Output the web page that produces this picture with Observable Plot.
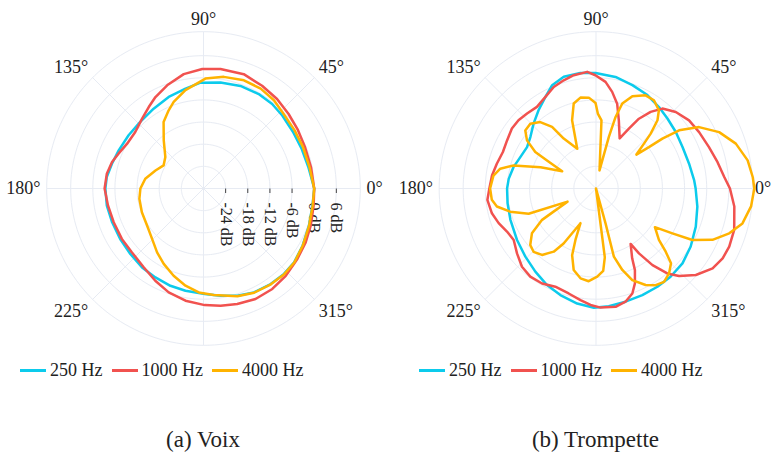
<!DOCTYPE html>
<html><head><meta charset="utf-8">
<script src="https://cdn.jsdelivr.net/npm/d3@7"></script>
<script src="https://cdn.jsdelivr.net/npm/@observablehq/plot@0.6"></script>
<style>
body{margin:0;background:#fff;font-family:"Liberation Serif",serif;color:#222}
#root{position:relative;width:772px;height:466px;overflow:hidden;background:#fff}
.panel{position:absolute;top:0;width:386px;height:466px}
.panel svg{position:absolute;left:0;top:0;overflow:visible}
.legend{position:absolute;top:359px;display:flex;align-items:center;font-size:18px;line-height:22px;white-space:nowrap}
.item{display:flex;align-items:center;margin-right:9px}
.sw{display:inline-block;width:26px;height:3px;margin-right:4px}
.caption{position:absolute;top:427px;font-size:23px;line-height:26px;white-space:nowrap;transform:translateX(-50%)}
</style></head><body><div id="root"></div><script>
// ---- data ----
const seriesNames = ["250 Hz", "1000 Hz", "4000 Hz"];
const seriesColors = ["#0ccbec", "#f1524f", "#ffb300"];
const captions = ["(a) Voix", "(b) Trompette"];
const angleTicks = [0, 45, 90, 135, 180, 225, 315];
const angleTickLabels = ["0°", "45°", "90°", "135°", "180°", "225°", "315°"];
const ringDb = [-24, -18, -12, -6, 0, 6];
const radialTickLabels = ["-24 dB", "-18 dB", "-12 dB", "-6 dB", "0 dB", "6 dB"];
const DB_MIN = -30, DB_MAX = 12.5;

// (a) Voix
const voix250Angles = [0, 11.6, 22.3, 32.4, 42.8, 50.9, 59.7, 70.2, 80.9, 91.6, 100.2, 110.8, 122, 133.5, 144.6, 155.8, 164.9, 173.3, 180, 190, 200.3, 211.2, 221.8, 232.1, 241.6, 251.2, 260, 270.7, 279, 287.5, 295.9, 305.1, 313.3, 320.8, 330, 340.6, 351.1];
const voix250Db = [0, -1.0, -1.3, -1.3, -0.9, -0.5, -0.35, -0.45, -0.9, -1.3, -2.5, -3.45, -4.5, -5.1, -5.1, -4.8, -4.3, -3.6, -3.4, -3.4, -3.6, -3.6, -3.4, -2.9, -2.6, -2.15, -1.85, -1.4, -0.6, 0.5, 1.3, 1.65, 1.8, 1.7, 1.0, 0.3, -0.1];
const voix1000Angles = [0, 11.3, 22.4, 31.8, 41.2, 50.6, 60.3, 70.6, 81.9, 90.6, 99.8, 109.4, 117.7, 123.9, 131.3, 140.4, 149.6, 157.7, 163.9, 171.3, 180, 190.1, 200.6, 211.7, 221.8, 232.8, 242.4, 251.5, 260.9, 270.6, 278.3, 286.3, 295.2, 304.4, 313.3, 323.1, 332.2, 340.9, 351.2];
const voix1000Db = [0, -0.3, -0.3, 0.1, 0.65, 1.4, 2.05, 2.85, 2.7, 2.4, 1.45, -0.35, -2.0, -3.4, -4.8, -6.0, -6.0, -5.1, -4.2, -3.5, -3.2, -3.7, -4.0, -4.0, -4.0, -3.2, -1.8, -0.3, 0.8, 1.6, 2.1, 2.6, 3.1, 3.0, 2.5, 1.8, 1.3, 0.75, 0.2];
const voix4000Angles = [0, 11.4, 22.7, 32.7, 42.9, 51.4, 60.2, 69.5, 79.7, 89, 100.4, 109, 114, 121, 129.6, 140.5, 149.9, 159.4, 170.5, 180, 189.1, 201.1, 213.3, 224.4, 234, 242.2, 251.1, 259.5, 267.4, 275.5, 287.5, 295.9, 305.1, 313.3, 320.8, 330, 340.6, 351.1];
const voix4000Db = [0, -0.7, -0.8, -0.7, -0.35, 0.6, 1.2, 1.3, 0.75, -0.2, -2.9, -5.2, -6.8, -9.0, -13.1, -16.6, -17.5, -16.1, -14.0, -12.9, -12.4, -12.1, -11.7, -10.5, -8.6, -6.9, -5.0, -3.2, -1.8, -1.0, 0.6, 1.4, 1.75, 1.9, 1.75, 1.05, 0.35, -0.05];

// (b) Trompette
const trp250Angles = [0, 4.7, 14.9, 25.6, 35.3, 44.4, 52.3, 61.2, 70.6, 80.1, 90.2, 97.7, 106.1, 113, 118.9, 126.3, 133.9, 141.9, 149, 157.5, 165.5, 173.7, 180, 189.5, 200.1, 213.1, 224, 233.9, 243.1, 251.5, 260.7, 269, 276.2, 284.6, 293.5, 302, 310.2, 319.1, 328.5, 339.1, 349.9];
const trp250Db = [-3.0, -3.3, -3.9, -4.0, -3.5, -2.9, -2.1, -1.1, -0.3, 0.7, 1.3, 1.6, 1.5, 0.4, -1.65, -3.7, -5.6, -7.4, -8.2, -7.8, -6.9, -6.2, -5.9, -5.7, -5.3, -4.45, -3.4, -2.1, -0.65, 0.45, 1.6, 2.3, 2.1, 1.7, 1.5, 1.4, 1.3, 1.0, 0.1, -1.05, -2.1];
const trp1000Angles = [0, 5.1, 12.2, 20.1, 28.7, 36.2, 43.8, 50.3, 54.5, 58.4, 61.2, 64.7, 71.5, 76, 80.5, 84.9, 90.3, 94.3, 101.1, 106.6, 112.6, 118.9, 125.9, 132.6, 138.6, 144.5, 151.6, 158.6, 166, 172.9, 180, 186, 193.4, 199.6, 205.8, 212, 219.4, 226.6, 233.3, 240.4, 247.5, 255.4, 262.1, 267.3, 272.2, 279.4, 284.6, 289.1, 292.3, 295.5, 297.4, 302, 303.5, 306.4, 310, 313.5, 319.1, 325.6, 331.1, 336.4, 343.3, 352.6];
const trp1000Db = [6.3, 4.9, 3.7, 2.6, 1.85, 1.25, -0.05, -1.85, -4.5, -7.8, -11.5, -15.0, -10.5, -6.3, -3.45, -1.0, 0.7, 1.7, 1.3, 0.6, -0.2, -1.65, -2.7, -2.4, -2.0, -2.0, -2.6, -2.9, -2.3, -1.6, -1.1, -0.4, -1.0, -2.0, -3.2, -3.7, -2.3, -0.8, -0.2, -0.4, -1.2, -0.6, 0.55, 1.6, 2.3, 2.5, 1.7, 0.1, -2.2, -5.5, -8.7, -12.3, -8.9, -4.2, 0.05, 2.7, 5.8, 8.3, 9.2, 9.4, 9.1, 7.8];
const trp4000Angles = [0, 4.1, 10.5, 17.8, 24.6, 30.8, 35, 36.9, 38, 40, 43.1, 45.1, 48, 51.2, 56.7, 62, 68.5, 72.8, 74.7, 76, 79, 85.4, 88.6, 90.3, 94.5, 99.7, 104.7, 109.3, 115.3, 122.9, 125.5, 130, 135.4, 140.6, 145.1, 149, 150.2, 152.9, 159, 164.4, 168.3, 172.8, 180, 186.2, 190.3, 195.1, 200.6, 204.8, 208.6, 210.2, 215, 220.7, 225.4, 230.9, 236.2, 239.5, 245.9, 248.2, 250.3, 254.7, 260.2, 265.5, 270.8, 275, 277.3, 280, 285.3, 284.7, 287.9, 291.6, 297.2, 301.7, 306.1, 310.7, 315.1, 317.8, 320.8, 326.7, 329.6, 331.9, 336.2, 341.4, 346.6, 353.4];
const trp4000Db = [12.9, 12.6, 11.8, 9.8, 6.7, 2.5, -2.5, -7.5, -11.8, -15.7, -12.2, -9.0, -5.1, -2.8, -1.4, -1.4, -3.1, -5.9, -9.9, -15.6, -25.0, -11.5, -9.7, -6.8, -5.3, -5.0, -6.2, -10.4, -18.1, -13.9, -9.5, -6.5, -5.0, -5.2, -7.2, -10.8, -14.7, -19.7, -13.9, -6.8, -3.5, -2.0, -1.3, -1.6, -2.7, -5.9, -10.5, -21.5, -16.9, -13.1, -8.8, -6.5, -5.9, -6.8, -9.4, -12.7, -19.7, -15.0, -10.8, -7.1, -5.3, -4.8, -6.1, -7.6, -11.2, -30, -20.2, -10.9, -6.8, -3.3, -0.6, 0.8, 1.3, 0.35, -1.3, -4.5, -8.0, -10.9, -6.0, -0.4, 4.5, 8.1, 10.8, 12.3];

// ---- helpers ----
const rad = a => a * Math.PI / 180;
const px = (a, db) => (db - DB_MIN) * Math.cos(rad(a));
const py = (a, db) => (db - DB_MIN) * Math.sin(rad(a));
const rowsOf = (angles, dbs) => angles.map((a, i) => ({angle: a, db: dbs[i]}));

const S = 3.69;       // pixels per dB
const W = 386, H = 350;
const GRID = "#e7ebf3";
const FONT = "Liberation Serif";

function polarPanel(series, cx, cy, showRadial, zeroLabelShift) {
  const ringRows = [];
  [...ringDb, DB_MAX].forEach((db, k) => {
    for (let a = 0; a < 360; a += 2) ringRows.push({ring: k, angle: a, db});
  });
  const spokes = d3.range(0, 360, 45);
  const marks = [
    Plot.line(ringRows, {x: d => px(d.angle, d.db), y: d => py(d.angle, d.db), z: "ring", stroke: GRID, strokeWidth: 1, curve: "linear-closed"}),
    Plot.link(spokes, {x1: () => 0, y1: () => 0, x2: a => px(a, DB_MAX), y2: a => py(a, DB_MAX), stroke: GRID, strokeWidth: 1})
  ];
  angleTicks.forEach((a, i) => {
    const c = Math.cos(rad(a)), s = Math.sin(rad(a));
    marks.push(Plot.text([a], {
      x: d => 44.2 * Math.cos(rad(d)), y: d => 44.2 * Math.sin(rad(d)),
      text: () => angleTickLabels[i],
      textAnchor: c > 0.1 ? "start" : c < -0.1 ? "end" : "middle",
      lineAnchor: s > 0.1 ? "bottom" : s < -0.1 ? "top" : "middle",
      dx: a === 0 ? -zeroLabelShift : 0,
      fontSize: 18, fontFamily: FONT, fill: "#222"
    }));
  });
  if (showRadial) {
    marks.push(Plot.link(ringDb, {x1: d => d - DB_MIN, x2: d => d - DB_MIN, y1: () => 0, y2: () => -4.5 / S, stroke: "#444", strokeWidth: 1}));
    marks.push(Plot.text(ringDb, {x: d => d - DB_MIN, y: () => 0, text: (d, i) => radialTickLabels[i], rotate: 90, textAnchor: "start", lineAnchor: "middle", dy: 14, fontSize: 16, fontFamily: FONT, fill: "#222"}));
  }
  series.forEach((rows, k) => {
    marks.push(Plot.line(rows, {x: d => px(d.angle, d.db), y: d => py(d.angle, d.db), stroke: seriesColors[k], strokeWidth: 2.5, curve: "linear-closed", strokeLinejoin: "round"}));
  });
  return Plot.plot({
    width: W, height: H, margin: 0,
    x: {domain: [-cx / S, (W - cx) / S], axis: null},
    y: {domain: [-(H - cy) / S, cy / S], axis: null},
    style: {background: "white", fontFamily: FONT},
    marks
  });
}

const panels = [
  {left: 0, cx: 203, cy: 188, legendLeft: 20, radial: true, zeroShift: 0,
   series: [rowsOf(voix250Angles, voix250Db), rowsOf(voix1000Angles, voix1000Db), rowsOf(voix4000Angles, voix4000Db)]},
  {left: 386, cx: 209.5, cy: 188, legendLeft: 33, radial: false, zeroShift: 4,
   series: [rowsOf(trp250Angles, trp250Db), rowsOf(trp1000Angles, trp1000Db), rowsOf(trp4000Angles, trp4000Db)]}
];

const root = document.getElementById("root");
panels.forEach((p, i) => {
  const div = document.createElement("div");
  div.className = "panel";
  div.style.left = p.left + "px";
  div.appendChild(polarPanel(p.series, p.cx, p.cy, p.radial, p.zeroShift));
  const leg = document.createElement("div");
  leg.className = "legend";
  leg.style.left = p.legendLeft + "px";
  seriesNames.forEach((n, k) => {
    const it = document.createElement("span");
    it.className = "item";
    const sw = document.createElement("span");
    sw.className = "sw";
    sw.style.background = seriesColors[k];
    const tx = document.createElement("span");
    tx.textContent = n;
    it.appendChild(sw); it.appendChild(tx);
    leg.appendChild(it);
  });
  div.appendChild(leg);
  const cap = document.createElement("div");
  cap.className = "caption";
  cap.style.left = p.cx + "px";
  cap.textContent = captions[i];
  div.appendChild(cap);
  root.appendChild(div);
});
</script></body></html>
